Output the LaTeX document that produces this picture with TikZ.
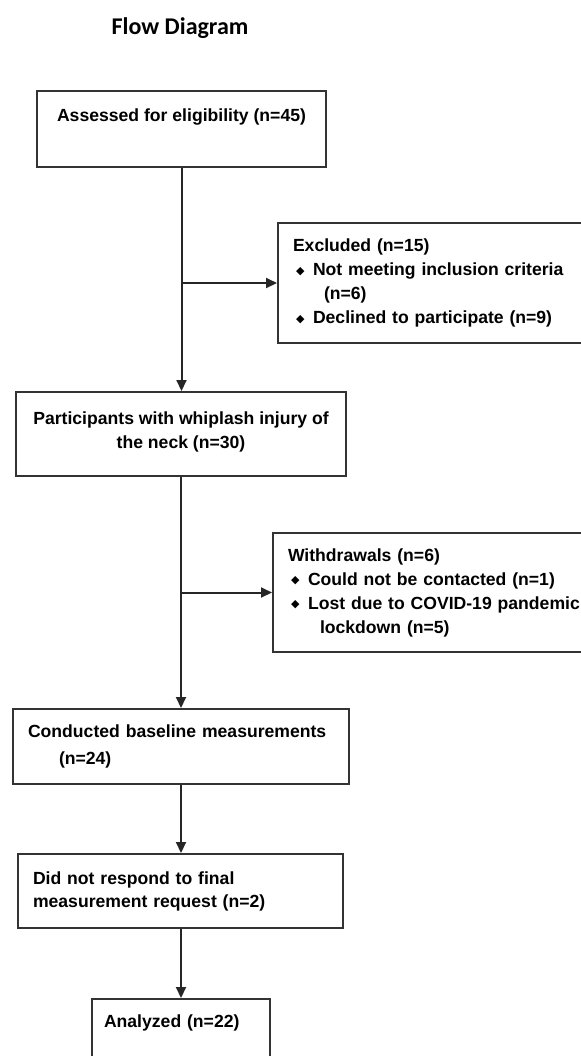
\documentclass[tikz,border=0pt]{standalone}
\usepackage{fontspec}
\setmainfont{Liberation Sans}
\newfontfamily\titlefont{Carlito}
\newfontfamily\symfont{DejaVu Sans}
\usetikzlibrary{arrows.meta}

\newcommand{\bul}{\raisebox{0.6pt}{\symfont\fontsize{5.5}{5.5}\selectfont ◆}}
\newcommand{\itm}{\makebox[10pt][l]{\hspace{1.5pt}\bul}}

\begin{document}
\begin{tikzpicture}[x=0.5pt, y=-0.5pt, >={Triangle[length=5.5pt, width=5pt]}]
        % ==== STYLES ====
        \tikzset{
            box/.style={draw=black!80, line width=1pt, inner sep=0pt, anchor=north west,
                font=\fontsize{8.8}{12}\selectfont\bfseries},
            leftbox/.style={box, inner xsep=7.5pt, align=left},
            midbox/.style={box, align=center},
            link/.style={->, line width=1pt, draw=black!85},
        }
        \useasboundingbox (0,0) rectangle (580,1056);

        % ==== TITLE ====
        \node[anchor=base, font=\titlefont\fontsize{12}{14}\selectfont\bfseries] (title) at (180,34) {Flow Diagram};

        % ==== MAIN COLUMN ====
        \node[midbox, minimum width=144.5pt, minimum height=38pt] (assessed) at (36,90)
            {Assessed for eligibility (n=45)\\[-1.5pt] \strut};
        \node[midbox, minimum width=165pt, minimum height=42pt] (participants) at (15,391)
            {Participants with whiplash injury of\\ the neck (n=30)\\[-8pt]\mbox{}};
        \node[leftbox, text width=153pt, minimum height=37.5pt] (baseline) at (12,708)
            {Conducted baseline measurements\\[1.5pt] \hspace*{15.5pt}(n=24)};
        \node[leftbox, text width=147.5pt, minimum height=37pt] (noreply) at (17,853)
            {Did not respond to final\\[-0.5pt] measurement request (n=2)};
        \node[leftbox, inner xsep=6pt, text width=77pt, minimum height=38pt] (analyzed) at (91,998)
            {Analyzed (n=22)\\ \strut};

        % ==== SIDE BOXES ====
        \node[leftbox, text width=166.5pt, minimum height=60pt] (excluded) at (277,222)
            {Excluded (n=15)\\
             \itm Not meeting inclusion criteria\\
             \hspace*{15.5pt}(n=6)\\
             \itm Declined to participate (n=9)};
        \node[leftbox, text width=169pt, minimum height=59.5pt] (withdrawn) at (272,532)
            {Withdrawals (n=6)\\
             \itm Could not be contacted (n=1)\\
             \itm Lost due to COVID-19 pandemic\\
             \hspace*{16pt}lockdown (n=5)};

        % ==== CONNECTORS ====
        \draw[link] (assessed.south) -- (assessed.south |- participants.north);
        \draw[link] (assessed.south |- excluded.west) -- (excluded.west);
        \draw[link] (participants.south) -- (participants.south |- baseline.north);
        \draw[link] (participants.south |- withdrawn.west) -- (withdrawn.west);
        \draw[link] (participants.south |- baseline.south) -- (participants.south |- noreply.north);
        \draw[link] (participants.south |- noreply.south) -- (participants.south |- analyzed.north);
    \end{tikzpicture}
\end{document}
